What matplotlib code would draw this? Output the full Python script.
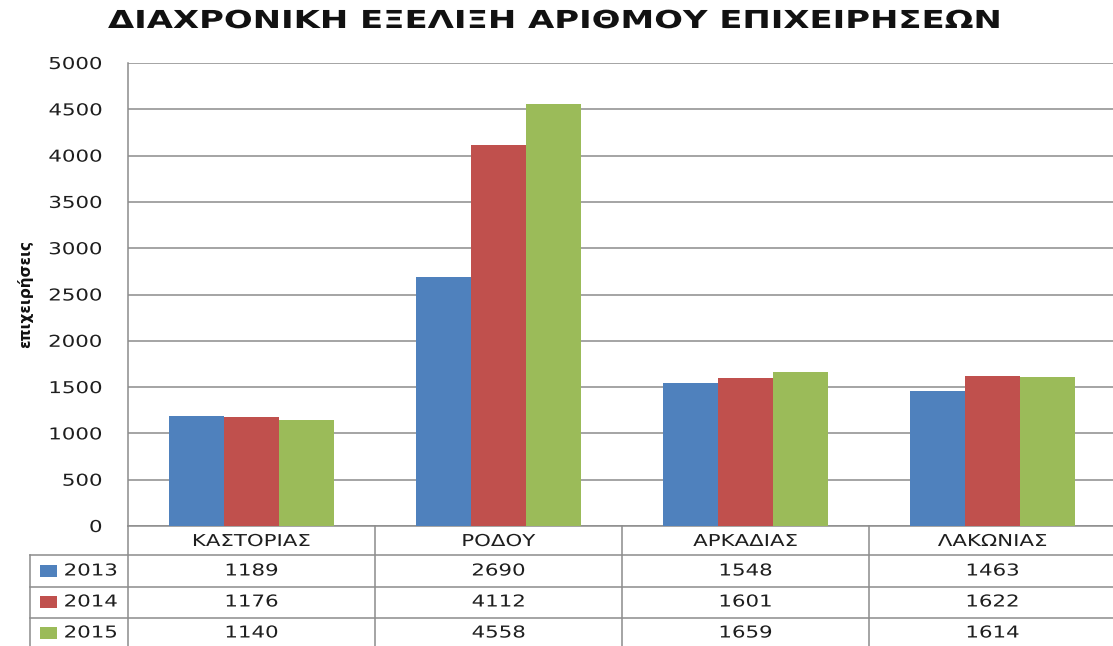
import matplotlib
matplotlib.use("Agg")
import matplotlib.pyplot as plt
import matplotlib.transforms as mtransforms
from matplotlib.patheffects import AbstractPathEffect
import numpy as np

title = "ΔΙΑΧΡΟΝΙΚΗ ΕΞΕΛΙΞΗ ΑΡΙΘΜΟΥ ΕΠΙΧΕΙΡΗΣΕΩΝ"
ylabel = "επιχειρήσεις"
categories = ["ΚΑΣΤΟΡΙΑΣ", "ΡΟΔΟΥ", "ΑΡΚΑΔΙΑΣ", "ΛΑΚΩΝΙΑΣ"]
years = ["2013", "2014", "2015"]
values_2013 = [1189, 2690, 1548, 1463]
values_2014 = [1176, 4112, 1601, 1622]
values_2015 = [1140, 4558, 1659, 1614]
series = [values_2013, values_2014, values_2015]
colors = ["#4F81BD", "#C0504D", "#9BBB59"]
yticks = [0, 500, 1000, 1500, 2000, 2500, 3000, 3500, 4000, 4500, 5000]


class Stretch(AbstractPathEffect):
    """Horizontally widen text glyphs around an anchor of their own extent."""
    def __init__(self, sx, anchor="center"):
        super().__init__()
        self.sx = sx
        self.anchor = anchor

    def draw_path(self, renderer, gc, tpath, affine, rgbFace=None):
        bb = tpath.get_extents(affine)
        if self.anchor == "left":
            cx = bb.x0
        elif self.anchor == "right":
            cx = bb.x1
        else:
            cx = 0.5 * (bb.x0 + bb.x1)
        extra = mtransforms.Affine2D().translate(-cx, 0).scale(self.sx, 1).translate(cx, 0)
        renderer.draw_path(gc, tpath, affine + extra, rgbFace)


SX = 1.3
TXT = "#1e1e1e"
FS = 11.8

W, H = 1113, 646
fig = plt.figure(figsize=(W / 100, H / 100), dpi=100)

left_px, right_px, top_px, bottom_px = 128, 1116, 63, 526
ax = fig.add_axes([left_px / W, 1 - bottom_px / H, (right_px - left_px) / W, (bottom_px - top_px) / H])

x = np.arange(len(categories))
bw = 0.224
for i, (vals, c) in enumerate(zip(series, colors)):
    ax.bar(x + (i - 1) * bw, vals, width=bw, color=c, edgecolor="none", zorder=3)

ax.set_xlim(-0.5, len(categories) - 0.5)
ax.set_ylim(0, 5000)
ax.set_yticks(yticks)
ax.set_yticklabels([str(t) for t in yticks], fontsize=FS, color=TXT)
ax.tick_params(axis="y", length=0, pad=18.5)
ax.set_xticks([])
ax.grid(axis="y", color="#8c8c8c", linewidth=1.1, zorder=0)
for s in ["top", "right", "bottom"]:
    ax.spines[s].set_visible(False)
ax.spines["left"].set_color("#8c8c8c")
ax.spines["left"].set_linewidth(1.1)

t = fig.text(554 / W, 1 - 28 / H, title, ha="center", va="baseline", fontsize=17.8,
             fontweight="bold", color="#111111")
t.set_path_effects([Stretch(1.37, "center")])
fig.text(25 / W, 1 - 294 / H, ylabel, ha="center", va="center", rotation=90,
         fontsize=11, fontweight="bold", color="#111111",
         family=["Liberation Sans Narrow", "DejaVu Sans"])

# data table below the axes
tr = mtransforms.blended_transform_factory(ax.transData, fig.transFigure)
def fy(px):
    return 1 - px / H
line_kw = dict(color="#8c8c8c", linewidth=1.1, clip_on=False)
row_lines = [555, 587, 618]
bottom_tab = 660
ax.plot([-0.5, len(categories) - 0.5], [fy(bottom_px)] * 2, transform=tr, **line_kw)
for xb in [-0.5] + [k + 0.5 for k in range(len(categories) - 1)]:
    ax.plot([xb, xb], [fy(bottom_px), fy(bottom_tab)], transform=tr, **line_kw)
for ry in row_lines:
    fig.add_artist(plt.Line2D([30 / W, 1.0], [fy(ry)] * 2, transform=fig.transFigure,
                              color="#8c8c8c", linewidth=1.1))
fig.add_artist(plt.Line2D([30 / W, 30 / W], [fy(555), fy(bottom_tab)], transform=fig.transFigure,
                          color="#8c8c8c", linewidth=1.1))

for k, cat in enumerate(categories):
    tt = ax.text(k, fy((bottom_px + 555) / 2 + 1), cat, transform=tr, ha="center", va="center",
                 fontsize=FS, color=TXT)
    tt.set_path_effects([Stretch(SX, "center")])
row_centers = [571, 602, 633]
for i, (yr, vals, c) in enumerate(zip(years, series, colors)):
    yc = row_centers[i]
    fig.add_artist(plt.Rectangle((40 / W, fy(yc + 6)), 17 / W, 12 / H, transform=fig.transFigure,
                                 facecolor=c, edgecolor="none"))
    tt = fig.text(64 / W, fy(yc), yr, ha="left", va="center", fontsize=FS, color=TXT)
    tt.set_path_effects([Stretch(SX, "left")])
    for k, v in enumerate(vals):
        tt = ax.text(k, fy(yc), str(v), transform=tr, ha="center", va="center",
                     fontsize=FS, color=TXT)
        tt.set_path_effects([Stretch(SX, "center")])

fig.canvas.draw()
for lab in ax.get_yticklabels():
    lab.set_path_effects([Stretch(SX, "right")])

fig.savefig("out.png", dpi=100)
